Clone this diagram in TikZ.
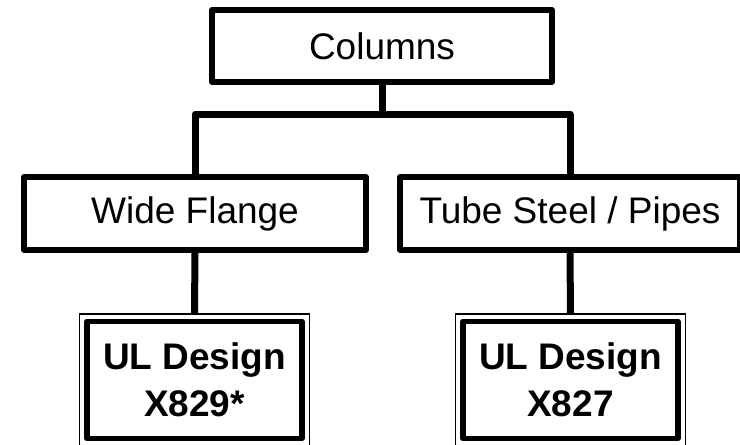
\documentclass[tikz,border=0pt]{standalone}
\usepackage{fontspec}
\setmainfont{Liberation Sans}
\begin{document}
\begin{tikzpicture}[x=1pt,y=-1pt,
  box/.style={draw=black, line width=5.5pt, line join=round, fill=white, inner sep=0pt,
    font=\fontsize{37}{44}\selectfont, text=black},
  ulouter/.style={draw=black, line width=1.6pt, inner sep=0pt, minimum width=230pt, minimum height=132pt},
  ulinner/.style={draw=black, line width=5.5pt, line join=round, inner sep=0pt,
    minimum width=215pt, minimum height=117pt, align=center,
    font=\fontsize{37}{47}\selectfont\bfseries},
  conn/.style={draw=black, line width=7pt, line join=round}]
\useasboundingbox (0,0) rectangle (740,445);
\clip (0,0) rectangle (740,445);
\node[box, minimum width=340pt, minimum height=72pt] (col) at (382,46) {Columns};
\node[box, minimum width=342pt, minimum height=73pt] (wf) at (195,213.5) {Wide Flange};
\node[box, minimum width=340pt, minimum height=73pt] (tube) at (570,213.5) {Tube Steel / Pipes};
\node[ulouter] (ula) at (194.5,380) {};
\node[ulinner] (ulain) at (194.5,380) {UL Design\\X829*};
\node[ulouter] (ulb) at (570.5,380) {};
\node[ulinner] (ulbin) at (570.5,380) {UL Design\\X827};
\coordinate (bar) at (382,114);
\draw[conn] (col.south) -- (bar);
\draw[conn] (wf.north) |- (bar) -| (tube.north);
\draw[conn] (wf.south) -- (ula.north);
\draw[conn] (tube.south) -- (ulb.north);
\end{tikzpicture}
\end{document}
